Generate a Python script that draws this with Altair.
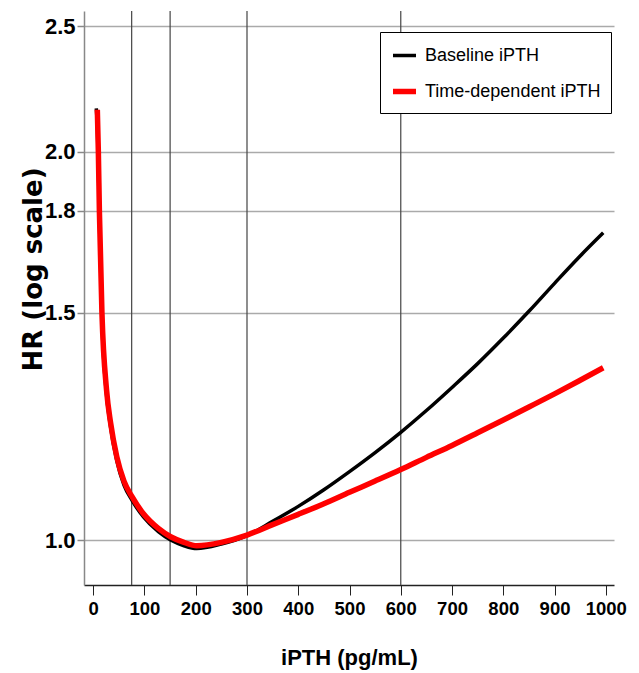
import altair as alt
import pandas as pd

# ---- data ----
baseline_x = [6, 8, 10, 12, 17, 26, 34, 46, 60, 76, 98, 127, 151, 177, 202, 250, 300, 350, 400,
              450, 500, 550, 600, 650, 700, 750, 800, 850, 900, 950, 995]
baseline_hr = [2.16, 2.09, 1.95, 1.77, 1.48, 1.295, 1.222, 1.152, 1.103, 1.073, 1.042, 1.015,
               1.000, 0.990, 0.985, 0.993, 1.008, 1.034, 1.062, 1.094, 1.130, 1.169, 1.212,
               1.260, 1.313, 1.370, 1.434, 1.504, 1.581, 1.660, 1.730]

timedep_x = [8, 10, 12, 17, 26, 34, 46, 60, 76, 98, 127, 151, 177, 202, 250, 300, 350, 400,
             450, 500, 550, 600, 650, 700, 750, 800, 850, 900, 950, 995]
timedep_hr = [2.155, 2.00, 1.80, 1.50, 1.307, 1.232, 1.160, 1.111, 1.080, 1.048, 1.021, 1.006,
              0.996, 0.990, 0.996, 1.009, 1.028, 1.047, 1.067, 1.089, 1.111, 1.134, 1.159,
              1.184, 1.211, 1.239, 1.268, 1.298, 1.330, 1.360]

series_names = ["Baseline iPTH", "Time-dependent iPTH"]
series_colors = ["#000000", "#ff0000"]
series_widths = [3.5, 5.5]

ref_lines = [75, 150, 300, 600]
x_ticks = [0, 100, 200, 300, 400, 500, 600, 700, 800, 900, 1000]
y_ticks = [1.0, 1.5, 1.8, 2.0, 2.5]

df = pd.concat([
    pd.DataFrame({"iPTH": baseline_x, "HR": baseline_hr, "series": series_names[0]}),
    pd.DataFrame({"iPTH": timedep_x, "HR": timedep_hr, "series": series_names[1]}),
], ignore_index=True)
rules_df = pd.DataFrame({"iPTH": ref_lines})

FONT = "Liberation Sans"

x_scale = alt.Scale(domain=[-18, 1016], nice=False, zero=False)
y_scale = alt.Scale(type="log", domain=[0.923, 2.57], nice=False, zero=False)

x_axis = alt.Axis(
    values=x_ticks, format="d", grid=False, title="iPTH (pg/mL)",
    labelFont=FONT, labelFontWeight="bold", labelFontSize=18.5,
    labelColor="black", labelPadding=4, tickSize=10, tickColor="#222222", tickWidth=1,
    domainColor="#222222", domainWidth=1.5,
    titleFont=FONT, titleFontWeight="bold", titleFontSize=22,
    titleColor="black", titleBaseline="alphabetic", titleY=79,
)
y_axis = alt.Axis(
    values=y_ticks, format=".1f", grid=True, gridColor="#aaaaaa", gridWidth=1.5,
    title="HR (log scale)",
    labelFont=FONT, labelFontWeight="bold", labelFontSize=22,
    labelColor="black", labelPadding=2, tickSize=7, tickColor="#888888", tickWidth=1.5,
    domainColor="#888888", domainWidth=1.5,
    titleFont="DejaVu Sans", titleFontWeight="bold", titleFontSize=26, titleColor="black",
    titleAngle=270, titleAlign="center", titleBaseline="middle", titleX=-51, titleY=258,
)

rules = alt.Chart(rules_df).mark_rule(color="#444444", strokeWidth=1.2).encode(
    x=alt.X("iPTH:Q", scale=x_scale, axis=x_axis)
)

lines = alt.Chart(df).mark_line(interpolate="monotone", strokeCap="butt").encode(
    x=alt.X("iPTH:Q", scale=x_scale, axis=x_axis),
    y=alt.Y("HR:Q", scale=y_scale, axis=y_axis),
    color=alt.Color("series:N", scale=alt.Scale(domain=series_names, range=series_colors),
                    legend=alt.Legend(title=None)),
    strokeWidth=alt.StrokeWidth("series:N",
                                scale=alt.Scale(domain=series_names, range=series_widths),
                                legend=alt.Legend(title=None)),
    order=alt.Order("iPTH:Q"),
)

chart = alt.layer(rules, lines).properties(
    width=530, height=574,
    autosize=alt.AutoSizeParams(type="none"),
    padding={"left": 84, "top": 11, "right": 25, "bottom": 88},
    background="white",
).configure_view(stroke=None).configure_legend(
    orient="none", legendX=296, legendY=21,
    strokeColor="black", fillColor="white", padding=10, cornerRadius=0,
    labelFont=FONT, labelFontSize=18, labelColor="black", labelLimit=400,
    labelOffset=6, symbolType="stroke", symbolSize=529, rowPadding=12,
)

chart.save("out.html", embed_options={"renderer": "svg", "actions": False})
